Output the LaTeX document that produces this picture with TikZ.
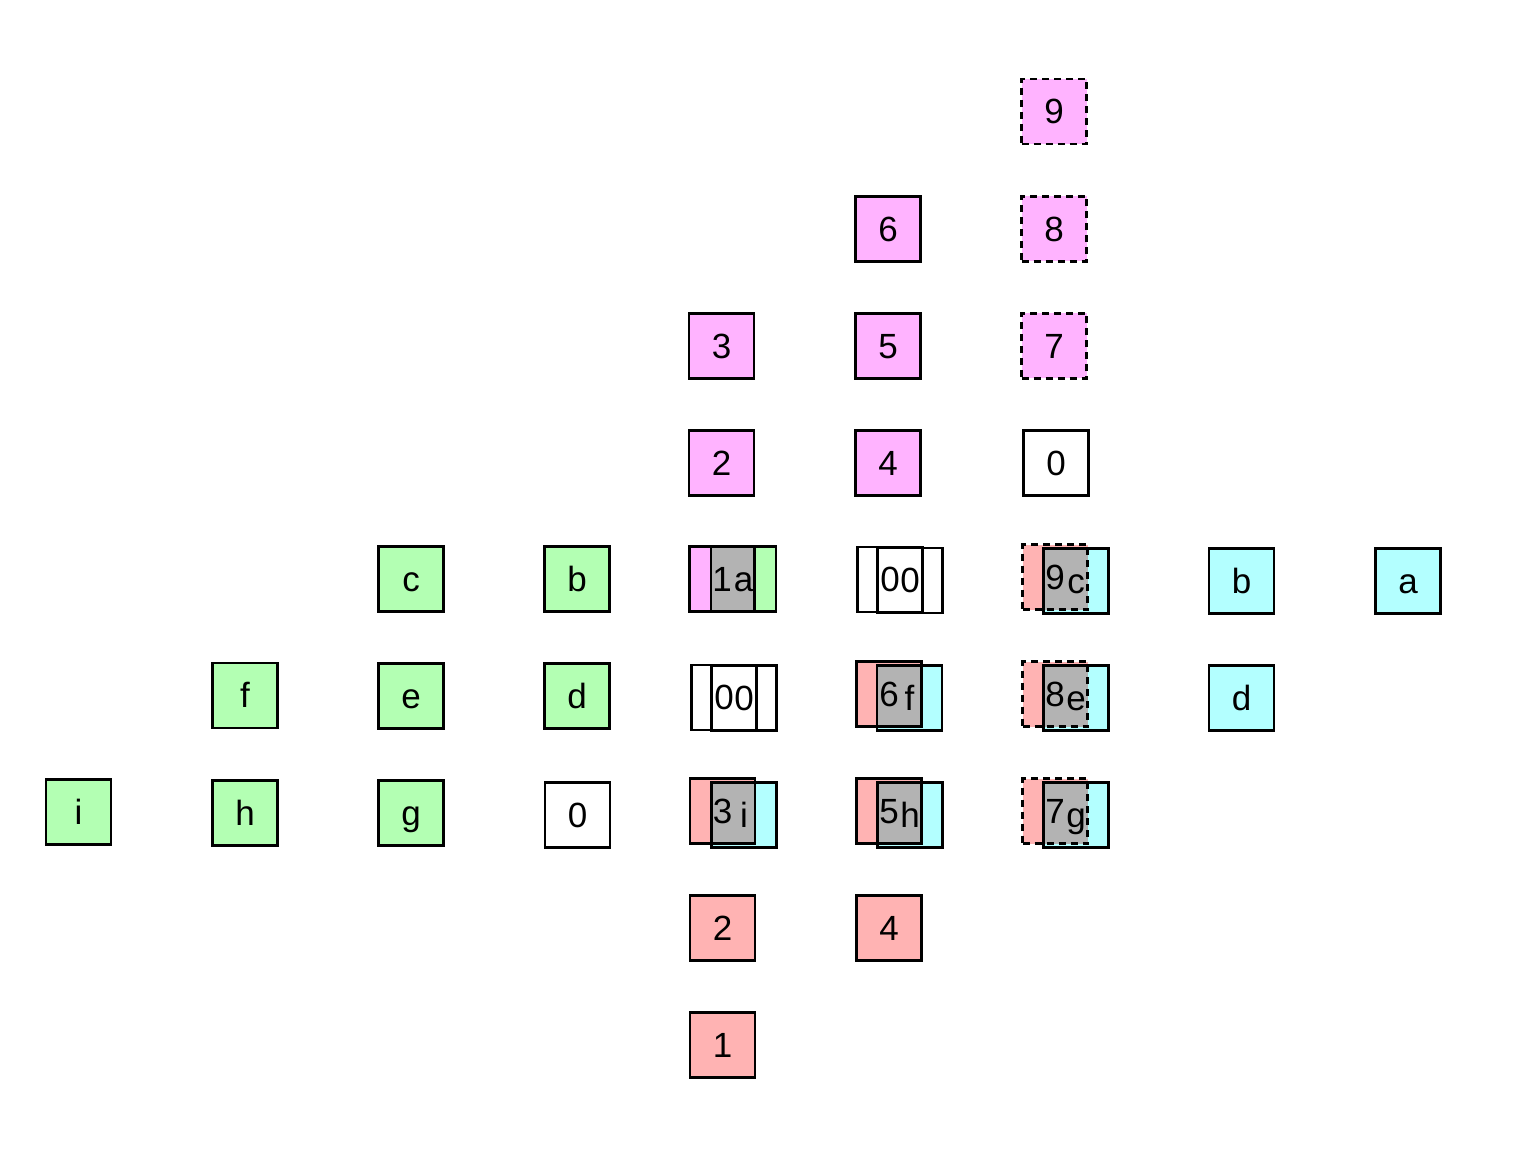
\documentclass[tikz,border=0pt]{standalone}
\usepackage{fontspec}
\setmainfont{Liberation Sans}
\usetikzlibrary{backgrounds}
\definecolor{pk}{RGB}{255,179,255}
\definecolor{rd}{RGB}{255,179,179}
\definecolor{gn}{RGB}{179,255,179}
\definecolor{cy}{RGB}{179,255,255}
\definecolor{gy}{RGB}{179,179,179}
\begin{document}
\begin{tikzpicture}[x=0.5pt,y=-0.5pt,
  sq/.style={draw, line width=1.2pt, minimum size=32.5pt, inner sep=0pt, outer sep=0pt,
    font=\fontsize{17.5}{21}\selectfont, text height=12.4pt, text depth=0pt},
  dsq/.style={sq, dash pattern=on 3.5pt off 2.5pt}]
\useasboundingbox (0,0) rectangle (1532,1166);
% pink group
\node[sq]  (p1) at (722,579) {1};
\node[sq]  (p2) at (721.5,463) {2};
\node[sq]  (p3) at (721.5,346) {3};
\node[sq]  (p4) at (888,463) {4};
\node[sq]  (p5) at (888,346) {5};
\node[sq]  (p6) at (888,229) {6};
\node[dsq] (p7) at (1054,346) {7};
\node[dsq] (p8) at (1054,229) {8};
\node[dsq] (p9) at (1054,111.5) {9};
\node[sq]  (p0) at (1056,463) {0};
% red group
\node[sq]  (r1) at (722.5,1045) {1};
\node[sq]  (r2) at (722.5,928) {2};
\node[sq]  (r3) at (722.5,811) {3};
\node[sq]  (r4) at (889,928) {4};
\node[sq]  (r5) at (889,811) {5};
\node[sq]  (r6) at (889,694) {6};
\node[dsq] (r7) at (1055,811) {7};
\node[dsq] (r8) at (1055,694) {8};
\node[dsq] (r9) at (1055,577) {9};
% green group
\node[sq] (ga) at (743.5,579) {a};
\node[sq] (gb) at (577,579) {b};
\node[sq] (gc) at (411,579) {c};
\node[sq] (gd) at (577,696) {d};
\node[sq] (ge) at (411,696) {e};
\node[sq] (gf) at (245,695.5) {f};
\node[sq] (gg) at (411,813) {g};
\node[sq] (gh) at (245,813) {h};
\node[sq] (gi) at (78.5,812) {i};
\node[sq] (g0) at (577.5,815) {0};
% cyan group
\node[sq] (ca) at (1408,581) {a};
\node[sq] (cb) at (1241.5,581) {b};
\node[sq] (cc) at (1076,581) {c};
\node[sq] (cd) at (1241.5,698) {d};
\node[sq] (ce) at (1076,698) {e};
\node[sq] (cf) at (909.5,698) {f};
\node[sq] (cg) at (1076,815) {g};
\node[sq] (ch) at (910,815) {h};
\node[sq] (ci) at (744,815) {i};
% white pairs
\node[sq] (wa) at (890,579.5) {0};
\node[sq] (wb) at (910,580.5) {0};
\node[sq] (wc) at (724,697.5) {0};
\node[sq] (wd) at (744,698) {0};
\begin{scope}[on background layer]
  \foreach \n in {p1,p2,p3,p4,p5,p6,p7,p8,p9}
    \fill[pk] (\n.north west) rectangle (\n.south east);
  \foreach \n in {r1,r2,r3,r4,r5,r6,r7,r8,r9}
    \fill[rd] (\n.north west) rectangle (\n.south east);
  \foreach \n in {ga,gb,gc,gd,ge,gf,gg,gh,gi}
    \fill[gn] (\n.north west) rectangle (\n.south east);
  \foreach \n in {ca,cb,cc,cd,ce,cf,cg,ch,ci}
    \fill[cy] (\n.north west) rectangle (\n.south east);
  % overlaps
  \fill[gy] (ga.west |- p1.north) rectangle (p1.south east);
  \foreach \r/\c in {r3/ci,r5/ch,r6/cf,r7/cg,r8/ce,r9/cc}
    \fill[gy] (\c.north west) rectangle (\r.south east);
\end{scope}
\end{tikzpicture}
\end{document}
